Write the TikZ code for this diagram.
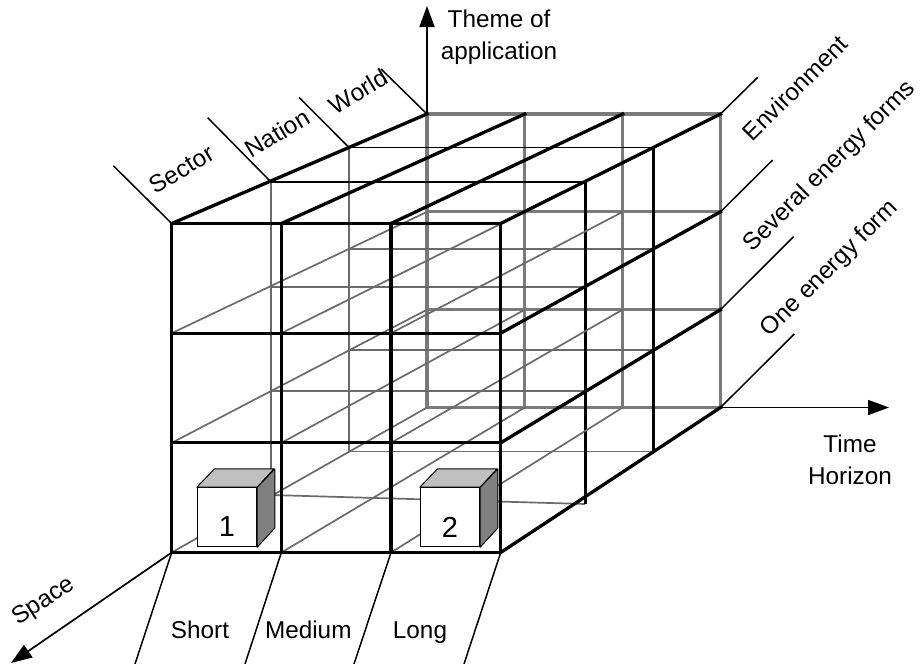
\documentclass[tikz,border=0pt]{standalone}
\usepackage{fontspec}
\setmainfont{Liberation Sans}
\usetikzlibrary{arrows.meta}

\definecolor{gridgray}{HTML}{7A7A7A}
\definecolor{linegray}{HTML}{6A6A6A}
\definecolor{topgray}{HTML}{C0C0C0}
\definecolor{sidegray}{HTML}{808080}

\begin{document}
\begin{tikzpicture}[x=1pt,y=-1pt,
  blackthick/.style={line width=3.3pt, black, line cap=rect},
  facetop/.style={line width=1.6pt, black},
  faceedge/.style={line width=3pt, black},
  backgrid/.style={line width=3.2pt, gridgray, line cap=rect},
  graythin/.style={line width=1.7pt, linegray},
  tick/.style={line width=1.5pt, black},
  axis/.style={line width=1.7pt, black, -{Triangle[length=21pt,width=15pt]}},
  lbl/.style={font=\fontsize{24.3}{31.7}\selectfont, inner sep=0pt},
  digit/.style={font=\fontsize{29}{32}\selectfont, inner sep=0pt},
  cubefront/.style={draw, fill=white, line width=1pt, inner sep=0pt,
    minimum width=59.4pt, minimum height=59pt},
  cubetop/.style={fill=topgray, draw=black, line width=1pt, line join=round},
  cubeside/.style={fill=sidegray, draw=black, line width=1pt, line join=round}
]
\useasboundingbox (0,0) rectangle (922,664);

% lattice points: layer k, column i, row j
\foreach \k/\L/\T/\S in {0/171.7/223.5/329, 1/271/182/314, 2/349/147.5/304, 3/427/114/293.5}
  \foreach \i in {0,1,2,3}
    \foreach \j in {0,1,2,3}
      \coordinate (p\k\i\j) at ({\L+\i*\S/3},{\T+\j*\S/3});
\coordinate (f1bl) at (271,495);
\coordinate (f1br) at (585,504);

% back layer
\foreach \n in {0,...,3} {
  \draw[backgrid] (p3\n0) -- (p3\n3);
  \draw[backgrid] (p30\n) -- (p33\n);
}

% third layer
\draw[graythin] (p200) -- (p203) -- (p233);
\draw[graythin] (p201) -- (p231);
\draw[graythin] (p202) -- (p232);
\draw[facetop] (p200) -- (p230);
\draw[faceedge] (p230) -- (p233);

% second layer
\draw[graythin] (p100) -- (f1bl) -- (f1br);
\draw[graythin] (p101) -- (p131);
\draw[graythin] (p102) -- (p132);
\draw[facetop] (p100) -- (p130);
\draw[faceedge] (p130) -- (f1br);

% inner depth lines
\foreach \i in {0,1,2}
  \foreach \j in {1,2,3}
    \draw[graythin] (p0\i\j) -- (p3\i\j);

% front layer
\foreach \n in {0,...,3} {
  \draw[blackthick] (p0\n0) -- (p0\n3);
  \draw[blackthick] (p00\n) -- (p03\n);
}

% top and right depth edges
\foreach \i in {0,...,3}
  \draw[blackthick] (p0\i0) -- (p3\i0);
\foreach \j in {1,2,3}
  \draw[blackthick] (p03\j) -- (p33\j);

% small boxes
\node[cubefront] (c1) at (227,517.2) {};
\filldraw[cubetop] (c1.north west) -- ++(17.7,-18.3) -- ++(59.4,0) -- (c1.north east) -- cycle;
\filldraw[cubeside] (c1.north east) -- ++(17.7,-18.3) -- ++(0,59) -- (c1.south east) -- cycle;
\node[digit] (d1) at ([yshift=-9.5pt]c1.center) {1};

\node[cubefront] (c2) at (450,517.2) {};
\filldraw[cubetop] (c2.north west) -- ++(17.7,-18.3) -- ++(59.4,0) -- (c2.north east) -- cycle;
\filldraw[cubeside] (c2.north east) -- ++(17.7,-18.3) -- ++(0,59) -- (c2.south east) -- cycle;
\node[digit] (d2) at ([yshift=-10.5pt]c2.center) {2};

% division ticks
\coordinate (ts0) at (113.3,165.7);
\coordinate (ts1) at (207.7,117.7);
\coordinate (ts2) at (299,97.3);
\coordinate (ts3) at (381,69);
\foreach \k in {0,...,3}
  \draw[tick] (p\k00) -- (ts\k);

\coordinate (te0) at (757.7,77.3);
\coordinate (te1) at (772.7,160);
\coordinate (te2) at (793.5,236.7);
\coordinate (te3) at (794.3,334);
\foreach \j in {0,...,3}
  \draw[tick] (p33\j) -- (te\j);

\coordinate (tb0) at (135,664);
\coordinate (tb1) at (245,664);
\coordinate (tb2) at (354,664);
\coordinate (tb3) at (464,664);
\foreach \i in {0,...,3}
  \draw[tick] (p0\i3) -- (tb\i);

% axes
\coordinate (themeend) at (427,6);
\coordinate (timeend) at (889,407.5);
\coordinate (spaceend) at (11,663);
\draw[axis] (p300) -- (themeend);
\draw[axis] (p333) -- (timeend);
\draw[axis] (p003) -- (spaceend);

% labels
\node[lbl, align=center, anchor=north] (theme) at (499,9.7) {Theme of\\application};
\node[lbl, align=center, anchor=north] (time) at (850,435) {Time\\Horizon};
\node[lbl, rotate=33] (space) at (44,601.7) {Space};

\node[lbl, anchor=base] (short) at (200,638.3) {Short};
\node[lbl, anchor=base] (medium) at (308.3,638.3) {Medium};
\node[lbl, anchor=base] (long) at (420,638.3) {Long};

\node[lbl, rotate=31] (sector) at (181.7,169.3) {Sector};
\node[lbl, rotate=31] (nation) at (277.3,133.3) {Nation};
\node[lbl, rotate=31] (world) at (358.3,91.7) {World};

\node[lbl, rotate=45] (env) at (795,88) {Environment};
\node[lbl, rotate=45] (several) at (830,166.7) {Several energy forms};
\node[lbl, rotate=45] (one) at (830,269) {One energy form};
\end{tikzpicture}
\end{document}
